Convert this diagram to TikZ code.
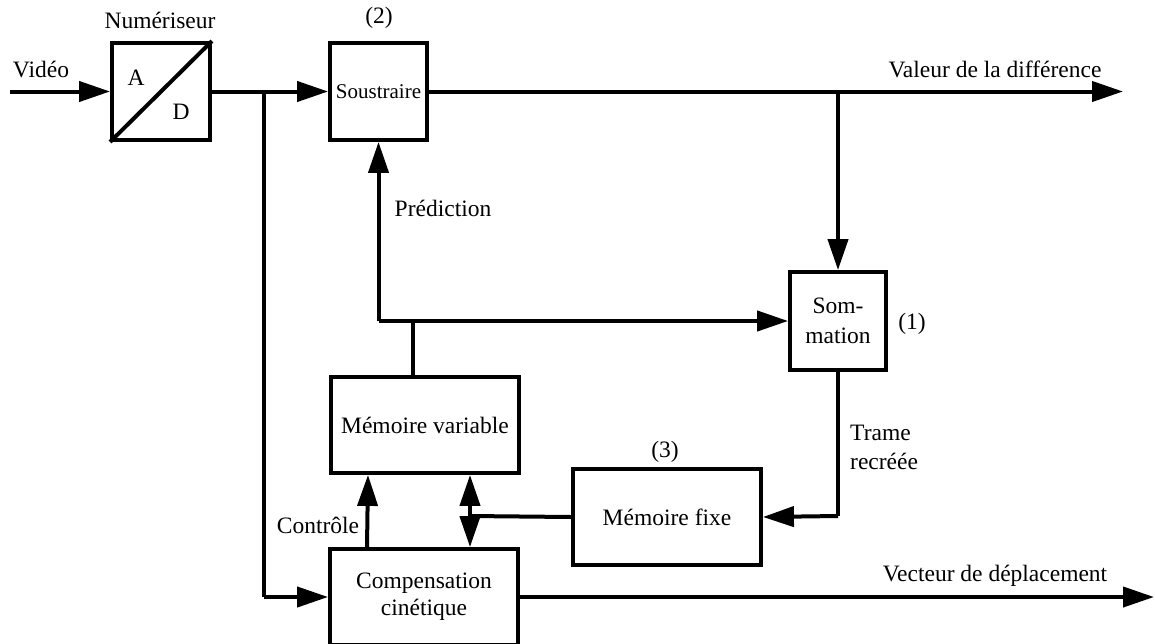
\documentclass[tikz,border=0pt]{standalone}
\usepackage{fontspec}
\setmainfont{Liberation Serif}
\usetikzlibrary{arrows.meta}
\begin{document}
\begin{tikzpicture}[x=1pt,y=-1pt,
  every node/.style={font=\fontsize{23.5}{27}\selectfont, inner sep=0pt},
  blk/.style={draw, line width=3.8pt, minimum width=#1, minimum height=96pt, align=center},
  blk/.default=96pt,
  conn/.style={line width=4pt},
  arr/.style={conn, -{Triangle[length=31pt,width=20pt]}},
  darr/.style={conn, {Triangle[length=31pt,width=20pt]}-{Triangle[length=31pt,width=20pt]}}
]
\clip (0,0) rectangle (1155,643);
\useasboundingbox (0,0) rectangle (1155,643);

% blocks
\node[blk=98pt, minimum height=97pt] (ad) at (161,91.5) {};
\node[blk=97pt, minimum height=97pt, font=\fontsize{21}{24}\selectfont] (sous) at (378.5,91.5) {Soustraire};
\node[blk=96pt, minimum height=98pt, font=\fontsize{23.5}{30}\selectfont] (somm) at (838,321) {Som-\\mation};
\node[blk=188pt] (mv) at (425,425) {Mémoire variable};
\node[blk=188pt] (mf) at (667,517) {Mémoire fixe};
\node[blk=188pt] (comp) at (424,597) {Compensation\\cinétique};

% A/D detail
\draw[conn] (ad.south west) -- (ad.north east);
\node (a) at (136,78) {A};
\node (d) at (181,112) {D};

% labels
\node (num) at (160,20) {Numériseur};
\node (n2) at (379,18) {(2)};
\node (n1) at (912,324) {(1)};
\node (n3) at (665,452) {(3)};
\node (vid) at (41,70) {Vidéo};
\node (val) at (995,69) {Valeur de la différence};
\node (pred) at (443,208) {Prédiction};
\node[align=left, anchor=west, font=\fontsize{23.5}{29}\selectfont] (trame) at (850,447) {Trame\\recréée};
\node (ctrl) at (318,525) {Contrôle};
\node (vec) at (995,576) {Vecteur de déplacement};

% coordinates
\coordinate (vin) at (10,91.5);
\coordinate (j1) at (264,91.5);
\coordinate (j2) at (838,91.5);
\coordinate (vout) at (1123,91.5);
\coordinate (j3) at (378.5,321);
\coordinate (j4) at (413,321);
\coordinate (j5) at (838,516);
\coordinate (j6) at (470,516);
\coordinate (vecout) at (1154,597);

% connectors
\draw[arr] (vin) -- (ad.west);
\draw[arr] (ad.east) -- (sous.west);
\draw[conn] (j1) -- (j1 |- comp.west);
\draw[arr] (j1 |- comp.west) -- (comp.west);
\draw[arr] (sous.east) -- (vout);
\draw[arr] (j2) -- (somm.north);
\draw[conn] (mv.north -| j4) -- (j4);
\draw[arr] (j3) -- (somm.west);
\draw[arr] (j3) -- (sous.south);
\draw[conn] (somm.south) -- (j5);
\draw[arr] (j5) -- (mf.east);
\draw[conn] (mf.west) -- (j6);
\draw[darr] (mv.south -| j6) -- (comp.north -| j6);
\draw[arr] ([xshift=-57pt]comp.north) -- ([xshift=-57pt]mv.south);
\draw[arr] (comp.east |- vecout) -- (vecout);
\end{tikzpicture}
\end{document}
